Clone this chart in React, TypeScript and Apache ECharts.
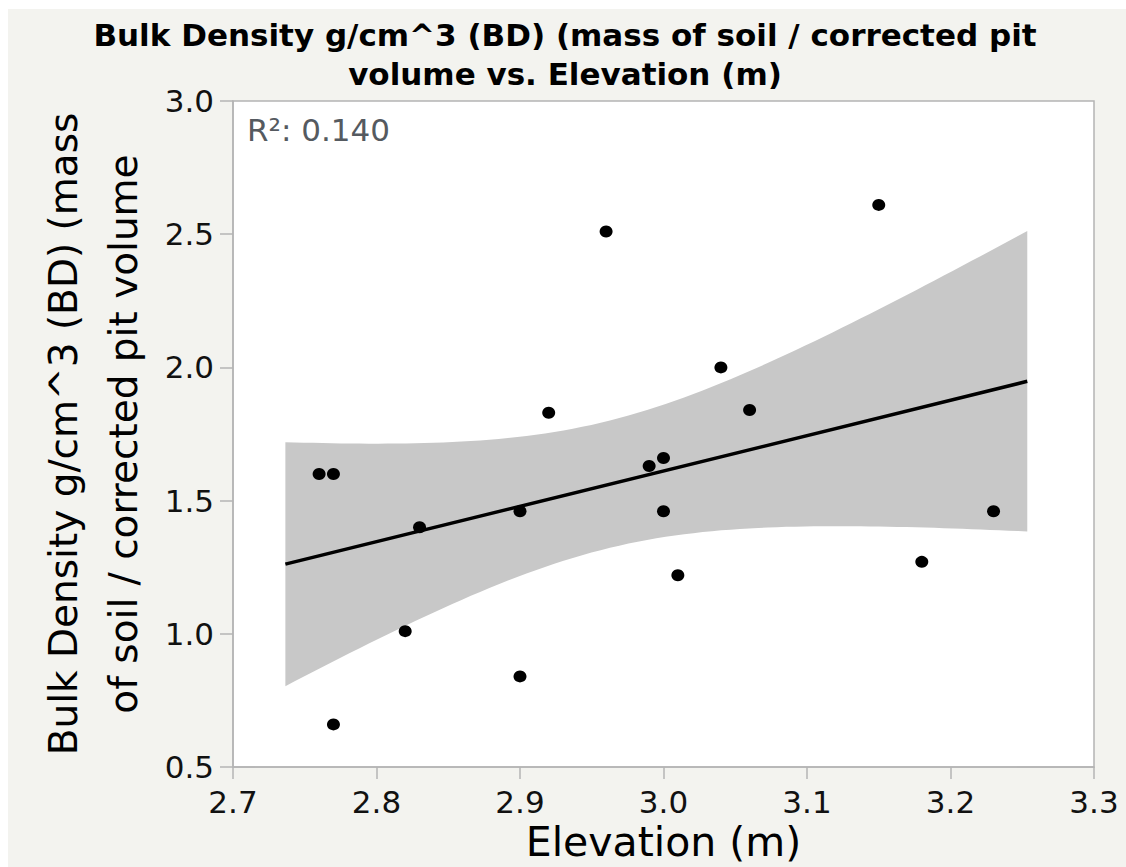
import { useEffect, useRef } from "react";
import * as echarts from "echarts";

// Scatter points
const elevation = [2.76, 2.77, 2.83, 2.82, 2.77, 2.9, 2.9, 2.96, 2.92, 2.99, 3.0, 3.0, 3.01, 3.04, 3.06, 3.15, 3.18, 3.23];
const bulkDensity = [1.6, 1.6, 1.4, 1.01, 0.66, 1.46, 0.84, 2.51, 1.83, 1.63, 1.66, 1.46, 1.22, 2.0, 1.84, 2.61, 1.27, 1.46];

// Axis ticks
const xTicks = [2.7, 2.8, 2.9, 3.0, 3.1, 3.2, 3.3];
const yTicks = [0.5, 1.0, 1.5, 2.0, 2.5, 3.0];
const xInterval = 0.1;
const yInterval = 0.5;

const titleLines = ["Bulk Density g/cm^3 (BD) (mass of soil / corrected pit", "volume vs. Elevation (m)"];
const xAxisName = "Elevation (m)";
const yAxisName = "Bulk Density g/cm^3 (BD) (mass\nof soil / corrected pit volume";
const rSquaredLabel = "R²: 0.140";

// Student t critical value, 95% two-sided, n - 2 = 16 degrees of freedom
const T_CRIT = 2.12;
// fit line extends 5% of the data range past the data on either side
const FIT_EXTENSION = 0.05;
const BAND_SAMPLES = 80;

function buildFit() {
  const n = elevation.length;
  const mx = elevation.reduce((a, b) => a + b, 0) / n;
  const my = bulkDensity.reduce((a, b) => a + b, 0) / n;
  let sxx = 0;
  let sxy = 0;
  for (let i = 0; i < n; i++) {
    sxx += (elevation[i] - mx) ** 2;
    sxy += (elevation[i] - mx) * (bulkDensity[i] - my);
  }
  const slope = sxy / sxx;
  const intercept = my - slope * mx;
  let sse = 0;
  for (let i = 0; i < n; i++) {
    sse += (bulkDensity[i] - (intercept + slope * elevation[i])) ** 2;
  }
  const s = Math.sqrt(sse / (n - 2));
  const xmin = Math.min(...elevation);
  const xmax = Math.max(...elevation);
  const ext = (xmax - xmin) * FIT_EXTENSION;
  const x0 = xmin - ext;
  const x1 = xmax + ext;
  const band: number[][] = [];
  for (let k = 0; k <= BAND_SAMPLES; k++) {
    const x = x0 + ((x1 - x0) * k) / BAND_SAMPLES;
    const yhat = intercept + slope * x;
    const h = T_CRIT * s * Math.sqrt(1 / n + (x - mx) ** 2 / sxx);
    band.push([x, yhat - h, yhat + h]);
  }
  const line = [
    [x0, intercept + slope * x0],
    [x1, intercept + slope * x1],
  ];
  return { band, line };
}

export default function App() {
  const ref = useRef<HTMLDivElement>(null);

  useEffect(() => {
    document.body.style.margin = "0";
    if (!ref.current) return;
    const chart = echarts.init(ref.current, null, { renderer: "svg" });
    const fit = buildFit();
    const points = elevation.map((x, i) => [x, bulkDensity[i]]);
    const axisGray = "#b4b4b4";
    const font = "DejaVu Sans";

    chart.setOption({
      animation: false,
      backgroundColor: "#f3f3ef",
      grid: {
        left: 225,
        top: 92,
        right: 32,
        bottom: 100,
        show: true,
        backgroundColor: "#ffffff",
        borderColor: axisGray,
        borderWidth: 1.5,
        containLabel: false,
        outerBoundsMode: "none",
      },
      xAxis: {
        type: "value",
        min: xTicks[0],
        max: xTicks[xTicks.length - 1],
        interval: xInterval,
        splitLine: { show: false },
        axisLine: { show: true, lineStyle: { color: axisGray, width: 1.5 } },
        axisTick: { show: true, length: 12, lineStyle: { color: axisGray, width: 1.5 } },
        axisLabel: {
          color: "#111",
          fontFamily: font,
          fontSize: 31,
          margin: 19,
          formatter: (v: number) => v.toFixed(1),
        },
        name: xAxisName,
        nameLocation: "middle",
        nameGap: 54,
        nameTextStyle: { color: "#000", fontFamily: font, fontSize: 41, lineHeight: 41 },
      },
      yAxis: {
        type: "value",
        min: yTicks[0],
        max: yTicks[yTicks.length - 1],
        interval: yInterval,
        splitLine: { show: false },
        axisLine: { show: true, lineStyle: { color: axisGray, width: 1.5 } },
        axisTick: { show: true, length: 13, lineStyle: { color: axisGray, width: 1.5 } },
        axisLabel: {
          color: "#111",
          fontFamily: font,
          fontSize: 31,
          margin: 19,
          formatter: (v: number) => v.toFixed(1),
        },
        name: yAxisName,
        nameLocation: "middle",
        nameRotate: 90,
        nameGap: 79,
        nameTextStyle: { color: "#000", fontFamily: font, fontSize: 39, lineHeight: 60, align: "center" },
      },
      graphic: [
        {
          type: "text",
          x: 557,
          y: 26,
          style: {
            text: titleLines[0],
            font: `bold 31px "${font}"`,
            fill: "#000",
            textAlign: "center",
            textVerticalAlign: "middle",
          },
        },
        {
          type: "text",
          x: 557,
          y: 65,
          style: {
            text: titleLines[1],
            font: `bold 31px "${font}"`,
            fill: "#000",
            textAlign: "center",
            textVerticalAlign: "middle",
          },
        },
        {
          type: "text",
          x: 239,
          y: 121,
          z: 10,
          style: {
            text: rSquaredLabel,
            font: `31px "${font}"`,
            fill: "#555a60",
            textAlign: "left",
            textVerticalAlign: "middle",
          },
        },
      ],
      series: [
        {
          name: "95% CI",
          type: "custom",
          data: fit.band,
          encode: { x: 0, y: [1, 2] },
          silent: true,
          z: 1,
          renderItem: (params: any, api: any) => {
            if (params.dataIndex !== 0) return null;
            const upper = fit.band.map((d) => api.coord([d[0], d[2]]));
            const lower = fit.band.map((d) => api.coord([d[0], d[1]])).reverse();
            return {
              type: "polygon",
              shape: { points: upper.concat(lower) },
              style: { fill: "#c8c8c8", stroke: "none" },
            };
          },
        },
        {
          name: "Fit",
          type: "line",
          data: fit.line,
          symbol: "none",
          lineStyle: { color: "#000", width: 3.5 },
          z: 3,
        },
        {
          name: "Points",
          type: "scatter",
          data: points,
          symbol: "circle",
          symbolSize: [13, 12],
          itemStyle: { color: "#000", opacity: 1 },
          z: 4,
        },
      ],
    });
    return () => chart.dispose();
  }, []);

  return (
    <div style={{ position: "relative", width: 1126, height: 867, background: "#fff" }}>
      <div ref={ref} style={{ position: "absolute", left: 8, top: 9, width: 1118, height: 858 }} />
    </div>
  );
}
